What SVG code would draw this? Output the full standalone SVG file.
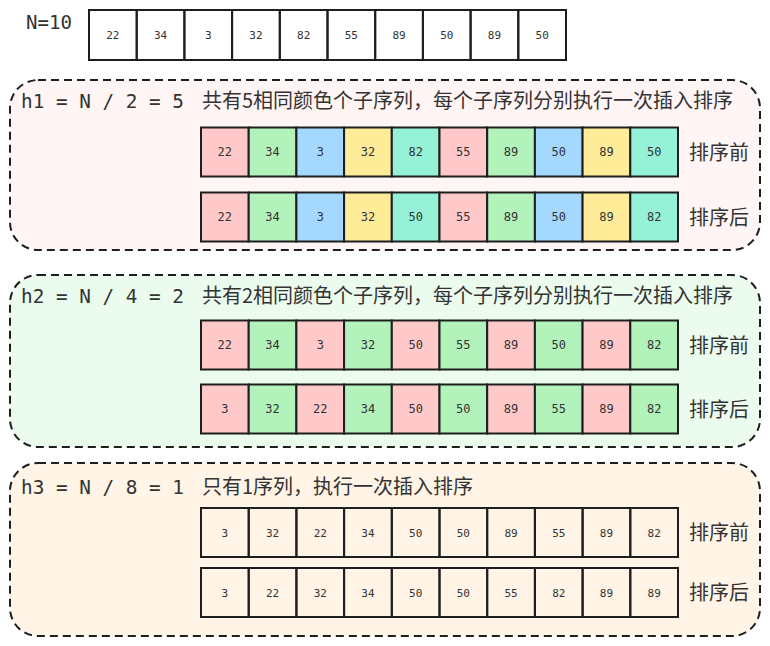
<svg xmlns="http://www.w3.org/2000/svg" width="770" height="646" viewBox="0 0 770 646">
<style>
.bg{fill:#ffffff}
.grp{stroke:#1e1e1e;stroke-width:2;stroke-dasharray:8 5}
.c{stroke:#1e1e1e;stroke-width:2}
.w{fill:none}
.p{fill:#ffc9c9}
.g{fill:#b2f2bb}
.b{fill:#a5d8ff}
.y{fill:#ffec99}
.t{fill:#96f2d7}
.n{font-family:"DejaVu Sans Mono","Liberation Mono",monospace;font-size:12px;fill:#333333;text-anchor:middle}
.n0{font-family:"DejaVu Sans Mono","Liberation Mono",monospace;font-size:11px;fill:#333333;text-anchor:middle}
.h{font-family:"DejaVu Sans Mono","Liberation Mono",monospace;font-size:19px;fill:#333333}
.cn{font-family:"Noto Sans CJK SC","Noto Sans",sans-serif;font-size:20px;fill:#333333}
</style>
<rect class="bg" x="0" y="0" width="770" height="646"/>

<g id="input">
<text class="h" x="26" y="29" textLength="46" lengthAdjust="spacingAndGlyphs">N=10</text>
<g class="c w">
<rect x="89" y="10" width="47.7" height="50"/><rect x="136.7" y="10" width="47.7" height="50"/><rect x="184.4" y="10" width="47.7" height="50"/><rect x="232.1" y="10" width="47.7" height="50"/><rect x="279.8" y="10" width="47.7" height="50"/><rect x="327.5" y="10" width="47.7" height="50"/><rect x="375.2" y="10" width="47.7" height="50"/><rect x="422.9" y="10" width="47.7" height="50"/><rect x="470.6" y="10" width="47.7" height="50"/><rect x="518.3" y="10" width="47.7" height="50"/>
</g>
<g class="n0">
<text x="112.85" y="39">22</text><text x="160.55" y="39">34</text><text x="208.25" y="39">3</text><text x="255.95" y="39">32</text><text x="303.65" y="39">82</text><text x="351.35" y="39">55</text><text x="399.05" y="39">89</text><text x="446.75" y="39">50</text><text x="494.45" y="39">89</text><text x="542.15" y="39">50</text>
</g>
</g>

<g id="step-h1">
<rect class="grp" x="10" y="80" width="750" height="170" rx="28" fill="#fff5f5"/>
<text class="h" x="21" y="107.5" textLength="163" lengthAdjust="spacingAndGlyphs" xml:space="preserve">h1 = N / 2 = 5</text>
<text class="cn" x="202" y="107.5">共有5相同颜色个子序列，每个子序列分别执行一次插入排序</text>
<g class="c">
<rect class="p" x="201" y="127.5" width="47.7" height="49"/><rect class="g" x="248.7" y="127.5" width="47.7" height="49"/><rect class="b" x="296.4" y="127.5" width="47.7" height="49"/><rect class="y" x="344.1" y="127.5" width="47.7" height="49"/><rect class="t" x="391.8" y="127.5" width="47.7" height="49"/><rect class="p" x="439.5" y="127.5" width="47.7" height="49"/><rect class="g" x="487.2" y="127.5" width="47.7" height="49"/><rect class="b" x="534.9" y="127.5" width="47.7" height="49"/><rect class="y" x="582.6" y="127.5" width="47.7" height="49"/><rect class="t" x="630.3" y="127.5" width="47.7" height="49"/>
<rect class="p" x="201" y="192.5" width="47.7" height="49"/><rect class="g" x="248.7" y="192.5" width="47.7" height="49"/><rect class="b" x="296.4" y="192.5" width="47.7" height="49"/><rect class="y" x="344.1" y="192.5" width="47.7" height="49"/><rect class="t" x="391.8" y="192.5" width="47.7" height="49"/><rect class="p" x="439.5" y="192.5" width="47.7" height="49"/><rect class="g" x="487.2" y="192.5" width="47.7" height="49"/><rect class="b" x="534.9" y="192.5" width="47.7" height="49"/><rect class="y" x="582.6" y="192.5" width="47.7" height="49"/><rect class="t" x="630.3" y="192.5" width="47.7" height="49"/>
</g>
<g class="n">
<text x="224.85" y="156.3">22</text><text x="272.55" y="156.3">34</text><text x="320.25" y="156.3">3</text><text x="367.95" y="156.3">32</text><text x="415.65" y="156.3">82</text><text x="463.35" y="156.3">55</text><text x="511.05" y="156.3">89</text><text x="558.75" y="156.3">50</text><text x="606.45" y="156.3">89</text><text x="654.15" y="156.3">50</text>
<text x="224.85" y="221.3">22</text><text x="272.55" y="221.3">34</text><text x="320.25" y="221.3">3</text><text x="367.95" y="221.3">32</text><text x="415.65" y="221.3">50</text><text x="463.35" y="221.3">55</text><text x="511.05" y="221.3">89</text><text x="558.75" y="221.3">50</text><text x="606.45" y="221.3">89</text><text x="654.15" y="221.3">82</text>
</g>
<text class="cn" x="689" y="159.5">排序前</text>
<text class="cn" x="689" y="224.5">排序后</text>
</g>

<g id="step-h2">
<rect class="grp" x="10" y="275" width="750" height="172" rx="28" fill="#ebfbee"/>
<text class="h" x="21" y="302.5" textLength="163" lengthAdjust="spacingAndGlyphs" xml:space="preserve">h2 = N / 4 = 2</text>
<text class="cn" x="202" y="302.5">共有2相同颜色个子序列，每个子序列分别执行一次插入排序</text>
<g class="c">
<rect class="p" x="201" y="320.5" width="47.7" height="49"/><rect class="g" x="248.7" y="320.5" width="47.7" height="49"/><rect class="p" x="296.4" y="320.5" width="47.7" height="49"/><rect class="g" x="344.1" y="320.5" width="47.7" height="49"/><rect class="p" x="391.8" y="320.5" width="47.7" height="49"/><rect class="g" x="439.5" y="320.5" width="47.7" height="49"/><rect class="p" x="487.2" y="320.5" width="47.7" height="49"/><rect class="g" x="534.9" y="320.5" width="47.7" height="49"/><rect class="p" x="582.6" y="320.5" width="47.7" height="49"/><rect class="g" x="630.3" y="320.5" width="47.7" height="49"/>
<rect class="p" x="201" y="384.5" width="47.7" height="49"/><rect class="g" x="248.7" y="384.5" width="47.7" height="49"/><rect class="p" x="296.4" y="384.5" width="47.7" height="49"/><rect class="g" x="344.1" y="384.5" width="47.7" height="49"/><rect class="p" x="391.8" y="384.5" width="47.7" height="49"/><rect class="g" x="439.5" y="384.5" width="47.7" height="49"/><rect class="p" x="487.2" y="384.5" width="47.7" height="49"/><rect class="g" x="534.9" y="384.5" width="47.7" height="49"/><rect class="p" x="582.6" y="384.5" width="47.7" height="49"/><rect class="g" x="630.3" y="384.5" width="47.7" height="49"/>
</g>
<g class="n">
<text x="224.85" y="349.3">22</text><text x="272.55" y="349.3">34</text><text x="320.25" y="349.3">3</text><text x="367.95" y="349.3">32</text><text x="415.65" y="349.3">50</text><text x="463.35" y="349.3">55</text><text x="511.05" y="349.3">89</text><text x="558.75" y="349.3">50</text><text x="606.45" y="349.3">89</text><text x="654.15" y="349.3">82</text>
<text x="224.85" y="413.3">3</text><text x="272.55" y="413.3">32</text><text x="320.25" y="413.3">22</text><text x="367.95" y="413.3">34</text><text x="415.65" y="413.3">50</text><text x="463.35" y="413.3">50</text><text x="511.05" y="413.3">89</text><text x="558.75" y="413.3">55</text><text x="606.45" y="413.3">89</text><text x="654.15" y="413.3">82</text>
</g>
<text class="cn" x="689" y="352.5">排序前</text>
<text class="cn" x="689" y="416.5">排序后</text>
</g>

<g id="step-h3">
<rect class="grp" x="10" y="463" width="750" height="173" rx="28" fill="#fff4e6"/>
<text class="h" x="21" y="493.5" textLength="163" lengthAdjust="spacingAndGlyphs" xml:space="preserve">h3 = N / 8 = 1</text>
<text class="cn" x="202" y="493.5">只有1序列，执行一次插入排序</text>
<g class="c w">
<rect x="201" y="508" width="47.7" height="49"/><rect x="248.7" y="508" width="47.7" height="49"/><rect x="296.4" y="508" width="47.7" height="49"/><rect x="344.1" y="508" width="47.7" height="49"/><rect x="391.8" y="508" width="47.7" height="49"/><rect x="439.5" y="508" width="47.7" height="49"/><rect x="487.2" y="508" width="47.7" height="49"/><rect x="534.9" y="508" width="47.7" height="49"/><rect x="582.6" y="508" width="47.7" height="49"/><rect x="630.3" y="508" width="47.7" height="49"/>
<rect x="201" y="568" width="47.7" height="49"/><rect x="248.7" y="568" width="47.7" height="49"/><rect x="296.4" y="568" width="47.7" height="49"/><rect x="344.1" y="568" width="47.7" height="49"/><rect x="391.8" y="568" width="47.7" height="49"/><rect x="439.5" y="568" width="47.7" height="49"/><rect x="487.2" y="568" width="47.7" height="49"/><rect x="534.9" y="568" width="47.7" height="49"/><rect x="582.6" y="568" width="47.7" height="49"/><rect x="630.3" y="568" width="47.7" height="49"/>
</g>
<g class="n0">
<text x="224.85" y="536.8">3</text><text x="272.55" y="536.8">32</text><text x="320.25" y="536.8">22</text><text x="367.95" y="536.8">34</text><text x="415.65" y="536.8">50</text><text x="463.35" y="536.8">50</text><text x="511.05" y="536.8">89</text><text x="558.75" y="536.8">55</text><text x="606.45" y="536.8">89</text><text x="654.15" y="536.8">82</text>
<text x="224.85" y="596.8">3</text><text x="272.55" y="596.8">22</text><text x="320.25" y="596.8">32</text><text x="367.95" y="596.8">34</text><text x="415.65" y="596.8">50</text><text x="463.35" y="596.8">50</text><text x="511.05" y="596.8">55</text><text x="558.75" y="596.8">82</text><text x="606.45" y="596.8">89</text><text x="654.15" y="596.8">89</text>
</g>
<text class="cn" x="689" y="540">排序前</text>
<text class="cn" x="689" y="600">排序后</text>
</g>
</svg>
